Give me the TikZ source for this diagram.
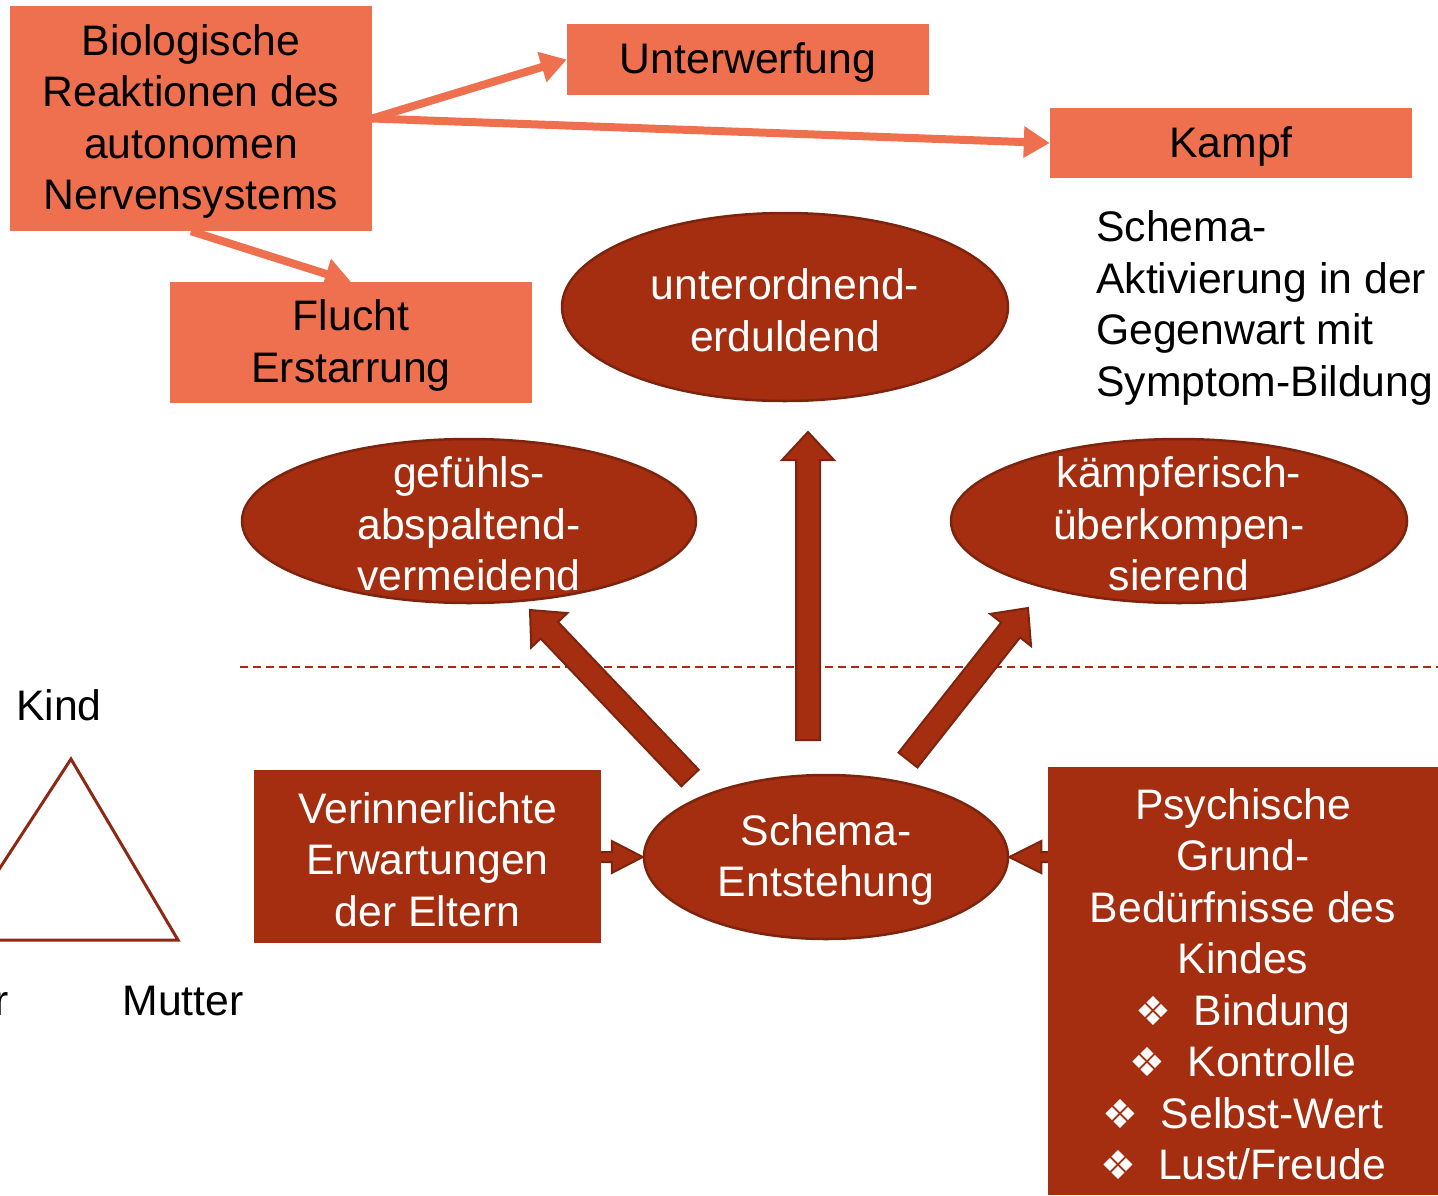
\documentclass[tikz,border=0pt]{standalone}
\usepackage{fontspec}
\setmainfont{Liberation Sans}
\newfontfamily\dingfont{DejaVu Sans}
\usetikzlibrary{shapes.geometric,arrows.meta,calc}

\definecolor{orangefill}{RGB}{239,112,78}
\definecolor{rustfill}{RGB}{165,46,16}
\definecolor{rustedge}{RGB}{125,36,14}
\definecolor{trianglecol}{RGB}{140,40,20}

\tikzset{
  every node/.style={font=\fontsize{42.7}{51.5}\selectfont},
  % shapes carry no text of their own; the text sits in a centred label
  intext/.style={inner sep=0pt, align=center, yshift=-3pt},
  darktext/.style={intext, text=black},
  lighttext/.style={intext, text=white},
  orangebox/.style={rectangle, fill=orangefill, inner sep=0pt},
  rustbox/.style={rectangle, fill=rustfill, inner sep=0pt},
  rustoval/.style={ellipse, fill=rustfill, draw=rustedge, line width=2.5pt, inner sep=0pt},
  reaction/.style={draw=orangefill, line width=8pt, -{Triangle[length=26pt,width=30pt]}},
  blockarrow/.style={fill=rustfill, draw=rustedge, line width=2pt, line join=miter},
  plain/.style={text=black, inner sep=0pt},
}

% block arrow: from, to, half shaft width, half head width, head length
\newcommand\rustarrow[5]{%
  \path ($(#2)!#5!(#1)$) coordinate (hb);
  \draw[blockarrow] ($(#1)!#3!90:(#2)$) -- ($(hb)!#3!90:(#2)$) -- ($(hb)!#4!90:(#2)$)
    -- (#2) -- ($(hb)!#4!-90:(#2)$) -- ($(hb)!#3!-90:(#2)$) -- ($(#1)!#3!-90:(#2)$) -- cycle;}

\newcommand\bul{{\dingfont\fontsize{40}{51.5}\selectfont ❖}\hspace{22pt}}

\begin{document}
\begin{tikzpicture}[x=1pt,y=-1pt]
\useasboundingbox (0,0) rectangle (1438,1195);

% upper part: autonomic reactions
\node[orangebox, minimum width=362pt, minimum height=225pt,
  label={[darktext]center:{Biologische\\Reaktionen des\\autonomen\\Nervensystems}}] (bio) at (191,118.5) {};
\node[orangebox, minimum width=362pt, minimum height=71pt,
  label={[darktext]center:Unterwerfung}] (unter) at (748,59.5) {};
\node[orangebox, minimum width=362pt, minimum height=70pt,
  label={[darktext]center:Kampf}] (kampf) at (1231,143) {};
\node[orangebox, minimum width=362pt, minimum height=121pt,
  label={[darktext]center:{Flucht\\Erstarrung}}] (flucht) at (351,342.5) {};

\draw[reaction] (bio.east) -- (unter.west);
\draw[reaction] (bio.east) -- (kampf.west);
\draw[reaction] (bio.south) -- (flucht.north);

% coping modes
\node[rustoval, minimum width=446pt, minimum height=188pt,
  label={[lighttext]center:{unterordnend-\\erduldend}}] (unterord) at (785,307) {};
\node[rustoval, minimum width=454pt, minimum height=164pt,
  label={[lighttext]center:{gefühls-\\abspaltend-\\vermeidend}}] (gefuehl) at (469,521) {};
\node[rustoval, minimum width=456pt, minimum height=164pt,
  label={[lighttext]center:{kämpferisch-\\überkompen-\\sierend}}] (kaempf) at (1179,521) {};

\node[plain, anchor=west, align=left] (aktiv) at (1096,308)
  {Schema-\\Aktivierung in der\\Gegenwart mit\\Symptom-Bildung};

% separation between present and past
\coordinate (sepL) at (240,667);
\coordinate (sepR) at (1438,667);
\draw[rustfill, line width=1.5pt, dash pattern=on 8pt off 5pt] (sepL) -- (sepR);

% schema origin
\node[rustoval, minimum width=364pt, minimum height=164pt,
  label={[lighttext]center:{Schema-\\Entstehung}}] (entst) at (826,857) {};

\coordinate (upS) at (808,740);  \coordinate (upT) at (808,432);
\coordinate (lS) at (690,778);   \coordinate (lT) at (530,610);
\coordinate (rS) at (908,760);   \coordinate (rT) at (1028,608);
\rustarrow{upS}{upT}{12pt}{26pt}{28pt}
\rustarrow{lS}{lT}{12pt}{25pt}{28pt}
\rustarrow{rS}{rT}{12pt}{26pt}{28pt}

\coordinate (inL) at (597,857);
\coordinate (inR) at (1055,857);
\rustarrow{inL}{entst.west}{5pt}{16pt}{31pt}
\rustarrow{inR}{entst.east}{5pt}{16pt}{32pt}

\node[rustbox, minimum width=347pt, minimum height=173pt,
  label={[lighttext]center:{Verinnerlichte\\Erwartungen\\der Eltern}}] (eltern) at (427.5,856.5) {};
\node[rustbox, minimum width=390pt, minimum height=428pt,
  label={[lighttext]center:{Psychische\\Grund-\\Bedürfnisse des\\Kindes\\\bul Bindung\\\bul Kontrolle\\\bul Selbst-Wert\\\bul Lust/Freude}}] (beduerf) at (1243,981) {};

% family triangle
\coordinate (apex) at (71,759);
\coordinate (bl) at (-47,940);
\coordinate (br) at (178,940);
\draw[trianglecol, line width=3pt, line join=miter] (apex) -- (br) -- (bl) -- cycle;
\node[plain, anchor=base] (kind) at (59,720) {Kind};
\node[plain, anchor=base] (mutter) at (183,1015) {Mutter};
\node[plain, anchor=base east] (vater) at (9,1015) {Vater};
\end{tikzpicture}
\end{document}
